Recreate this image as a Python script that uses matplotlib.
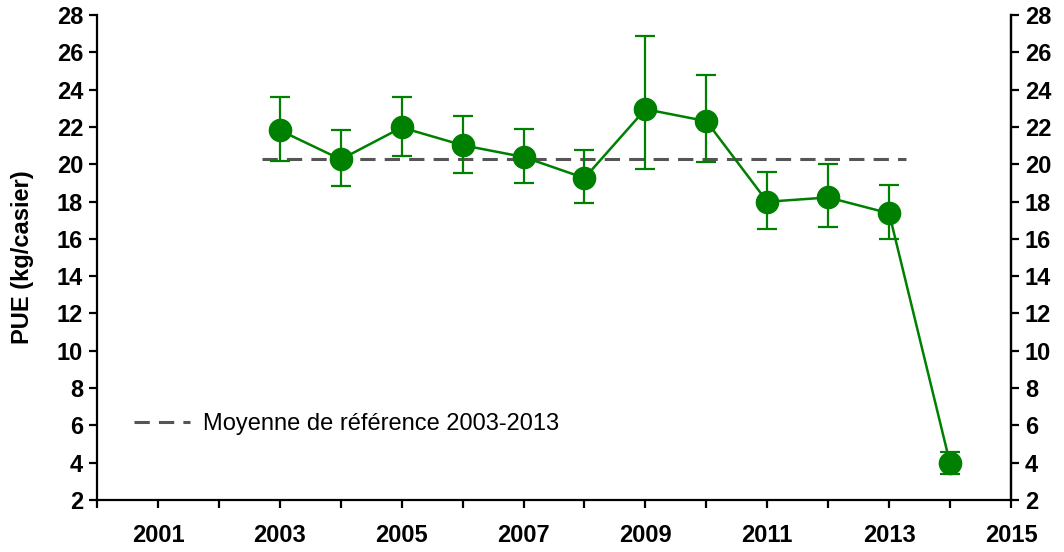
import matplotlib
matplotlib.use("Agg")
import matplotlib.pyplot as plt

plt.rcParams['font.family'] = ['Liberation Sans', 'DejaVu Sans']

years = [2003, 2004, 2005, 2006, 2007, 2008, 2009, 2010, 2011, 2012, 2013, 2014]
pue = [21.82, 20.26, 21.97, 21.02, 20.39, 19.26, 22.95, 22.31, 17.99, 18.22, 17.37, 3.96]
err_high = [23.60, 21.82, 23.59, 22.61, 21.88, 20.75, 26.85, 24.78, 19.58, 20.03, 18.88, 4.55]
err_low = [20.19, 18.81, 20.43, 19.53, 18.99, 17.90, 19.74, 20.12, 16.53, 16.62, 15.99, 3.37]
ref_mean = 20.30
ref_span = [2002.7, 2013.28]
legend_label = "Moyenne de référence 2003-2013"
ylabel = "PUE (kg/casier)"
yticks = list(range(2, 29, 2))
xticks = list(range(2000, 2016))
xticklabels = [str(y) if y % 2 == 1 else "" for y in xticks]

green = "#008000"

fig = plt.figure(figsize=(10.64, 5.52), dpi=100)
ax = fig.add_axes([0.0912, 0.0942, 0.8590, 0.8786])

yerr = [[p - l for p, l in zip(pue, err_low)], [h - p for p, h in zip(pue, err_high)]]
ax.plot(ref_span, [ref_mean, ref_mean], color="#555555", lw=2.2,
        dashes=(5, 3), label=legend_label, zorder=2)
ax.errorbar(years, pue, yerr=yerr, color=green, ecolor=green, lw=1.8,
            elinewidth=1.6, capsize=7, capthick=1.6, marker='o', markersize=16,
            markerfacecolor=green, markeredgecolor=green, zorder=3)

ax.set_xlim(2000, 2015)
ax.set_ylim(2, 28)
ax.set_xticks(xticks)
ax.set_xticklabels(xticklabels, fontsize=17, fontweight='bold')
ax.set_yticks(yticks)
ax.set_yticklabels([str(t) for t in yticks], fontsize=17, fontweight='bold')
ax.set_ylabel(ylabel, fontsize=17, fontweight='bold')
ax.yaxis.set_label_coords(-0.069, 0.5)

ax.spines['top'].set_visible(False)
for s in ['left', 'right', 'bottom']:
    ax.spines[s].set_linewidth(1.6)
ax.tick_params(axis='both', width=1.6, length=6, direction='out', pad=4)
ax.tick_params(axis='x', pad=11)

ax2 = ax.twinx()
ax2.set_ylim(2, 28)
ax2.set_yticks(yticks)
ax2.set_yticklabels([str(t) for t in yticks], fontsize=17, fontweight='bold')
ax2.tick_params(axis='y', width=1.6, length=6, direction='out', pad=4)
ax2.spines['top'].set_visible(False)
ax2.spines['right'].set_linewidth(1.6)
ax2.spines['left'].set_visible(False)
ax2.spines['bottom'].set_visible(False)

ax.legend(loc='lower left', bbox_to_anchor=(0.017, 0.09), frameon=False,
          fontsize=17, handlelength=2.4, handletextpad=0.55)

fig.savefig("out.png", dpi=100)
